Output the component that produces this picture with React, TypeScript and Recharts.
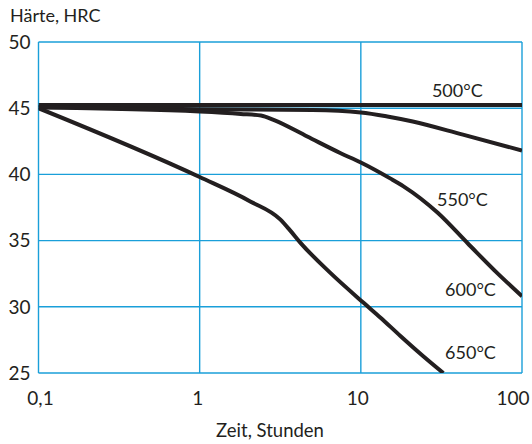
import { LineChart, Line, XAxis, YAxis, CartesianGrid, ReferenceDot } from "recharts";

// Anlassbeständigkeit: Härte über Haltezeit bei verschiedenen Anlasstemperaturen
const xTicks = [0.1, 1, 10, 100];
const xTickLabels: Record<number, string> = { 0.1: "0,1", 1: "1", 10: "10", 100: "100" };
const yTicks = [25, 30, 35, 40, 45, 50];

const time500 = [0.1, 1, 10, 100];
const hrc500 = [45.25, 45.25, 45.25, 45.25];

const time550 = [0.1, 1, 5, 10, 14.6, 21, 43, 100];
const hrc550 = [45.1, 44.92, 44.86, 44.68, 44.38, 44.0, 43.0, 41.8];

const time600 = [0.1, 1, 1.8, 2.4, 2.9, 4.65, 7.5, 10, 15.2, 18.4, 30, 46, 70, 100];
const hrc600 = [45.05, 44.75, 44.57, 44.45, 44.1, 42.86, 41.6, 40.9, 39.7, 39.1, 37.1, 34.8, 32.56, 30.8];

const time650 = [0.1, 1, 2.06, 3.16, 3.65, 4.21, 6.47, 10.4, 13.2, 17.6, 24.4, 32.5];
const hrc650 = [45.0, 39.8, 37.96, 36.6, 35.75, 34.85, 32.56, 30.3, 29.2, 27.8, 26.27, 25.0];

const toPoints = (t: number[], h: number[]) => t.map((x, i) => ({ t: x, h: h[i] }));

const series = [
  { name: "500°C", data: toPoints(time500, hrc500) },
  { name: "550°C", data: toPoints(time550, hrc550) },
  { name: "600°C", data: toPoints(time600, hrc600) },
  { name: "650°C", data: toPoints(time650, hrc650) },
];

const FONT = "Lato, 'Open Sans', sans-serif";
const INK = "#231f20";
const GRID = "#1a9fd9";

const curveLabel = (value: string) => ({
  value,
  position: "center" as const,
  fill: INK,
  fontSize: 18,
  fontFamily: FONT,
});

// the last labels sit a little left of their grid line so "100" stays inside
const tickShift: Record<number, number> = { 0.1: 2, 1: -2, 10: -3, 100: -7 };

function TimeTick(props: any) {
  const { x, y, payload } = props;
  const v = payload.value as number;
  return (
    <text
      x={x + (tickShift[v] ?? 0)}
      y={y}
      dy="0.71em"
      textAnchor="middle"
      fill={INK}
      fontSize={19}
      fontFamily={FONT}
    >
      {xTickLabels[v] ?? String(v)}
    </text>
  );
}

export default function App() {
  return (
    <div style={{ position: "absolute", left: 0, top: 0, width: 532, height: 444, background: "#fff" }}>
      <div style={{ position: "absolute", left: 10, top: 4, fontFamily: FONT, fontSize: 18, lineHeight: "22px", color: INK }}>
        Härte, HRC
      </div>
      <LineChart width={532} height={444} data={[]} margin={{ top: 42, right: 10, left: 0, bottom: 0 }}>
        <CartesianGrid stroke={GRID} strokeWidth={1.4} />
        <XAxis
          dataKey="t"
          type="number"
          scale="log"
          domain={[0.1, 100]}
          ticks={xTicks}
          allowDataOverflow
          axisLine={false}
          tickLine={false}
          tickSize={0}
          tickMargin={19}
          height={71}
          tick={<TimeTick />}
        />
        <YAxis
          type="number"
          domain={[25, 50]}
          ticks={yTicks}
          allowDataOverflow
          axisLine={false}
          tickLine={false}
          tickSize={0}
          tickMargin={8}
          width={38.5}
          tick={{ fill: INK, fontSize: 19, fontFamily: FONT }}
        />
        {series.map((s) => (
          <Line
            key={s.name}
            data={s.data}
            dataKey="h"
            type="monotone"
            stroke={INK}
            strokeWidth={4}
            dot={false}
            activeDot={false}
            isAnimationActive={false}
          />
        ))}
        <ReferenceDot x={39.7} y={46.3} r={1} fill="none" stroke="none" label={curveLabel("500°C")} />
        <ReferenceDot x={42.7} y={38.1} r={1} fill="none" stroke="none" label={curveLabel("550°C")} />
        <ReferenceDot x={47.9} y={31.3} r={1} fill="none" stroke="none" label={curveLabel("600°C")} />
        <ReferenceDot x={47.9} y={26.55} r={1} fill="none" stroke="none" label={curveLabel("650°C")} />
      </LineChart>
      <div
        style={{
          position: "absolute",
          left: 0,
          width: 540,
          top: 419,
          textAlign: "center",
          fontFamily: FONT,
          fontSize: 18.5,
          lineHeight: "22px",
          color: INK,
        }}
      >
        Zeit, Stunden
      </div>
    </div>
  );
}
